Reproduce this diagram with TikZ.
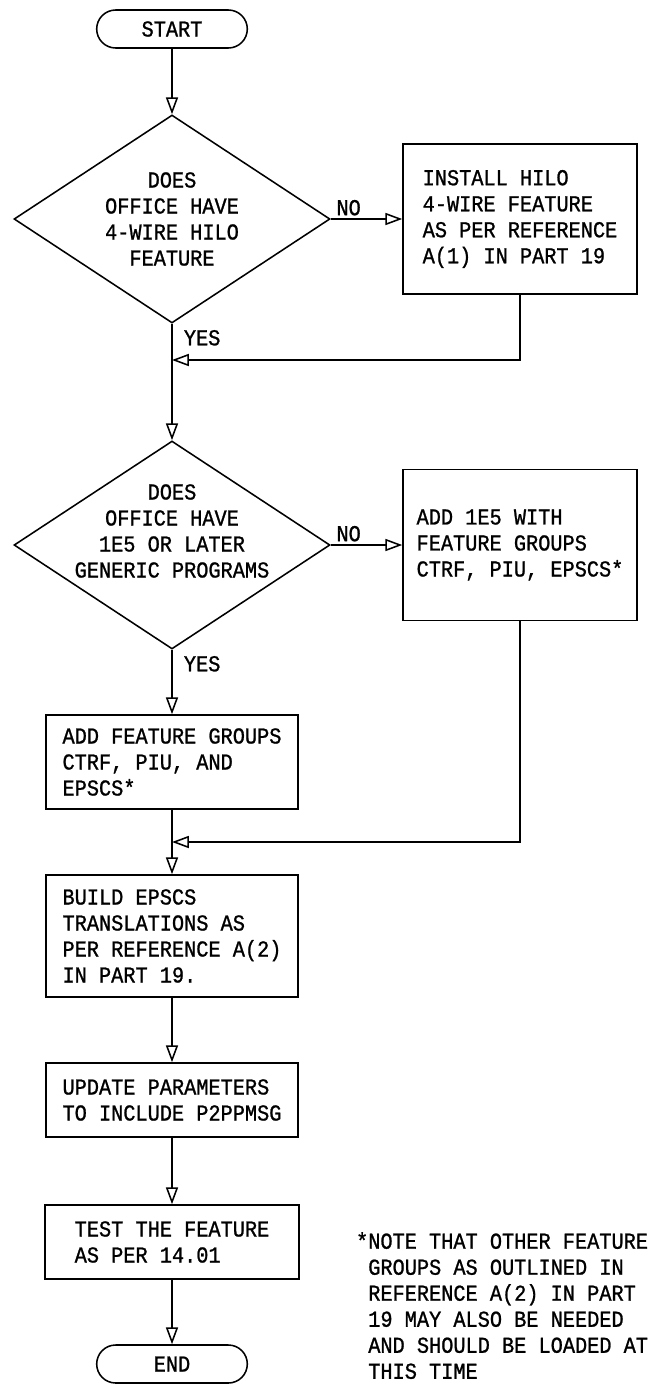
\documentclass[tikz,border=0pt]{standalone}
\usepackage{fontspec}
\newfontfamily\flowfont[FakeStretch=0.89, FakeBold=1]{Liberation Mono}
\usepackage{tikz}
\usetikzlibrary{arrows.meta,shapes,positioning}
\tikzstyle{arrow} = [line width=1.1pt, -{Triangle[open, length=0.42cm, width=0.3cm]}]
\tikzstyle{terminal} = [rounded rectangle, draw, line width=1.1pt, minimum width=4cm, minimum height=0.95cm]
\tikzstyle{decision} = [diamond, draw, line width=1.1pt, minimum width=7.9cm, minimum height=5.2cm, inner sep=0pt]
\tikzstyle{process} = [rectangle, draw, line width=1.1pt, align=left, inner sep=0pt]
\tikzstyle{dtext} = [align=center]
\tikzstyle{lbl} = [inner sep=2pt]

\begin{document}
\begin{tikzpicture}[font=\fontsize{16.2}{18.5}\selectfont\flowfont]
\useasboundingbox (0,0) rectangle (16.3,-34.625);

% Main column
\node (start) [terminal] at (4.3,-0.725) {START};
\node (d1) [decision, below of=start, node distance=4.75cm] {};
\node (d1txt) [dtext] at (d1) {DOES\\OFFICE HAVE\\4-WIRE HILO\\FEATURE};
\node (d2) [decision, below of=d1, node distance=8.15cm] {};
\node (d2txt) [dtext] at ([yshift=0.35cm]d2) {DOES\\OFFICE HAVE\\1E5 OR LATER\\GENERIC PROGRAMS};
\node (addfg) [process, below of=d2, node distance=5.425cm, minimum width=6.3cm, minimum height=2.35cm] {ADD FEATURE GROUPS\\CTRF, PIU, AND\\EPSCS*};
\node (build) [process, below of=addfg, node distance=4.35cm, minimum width=6.3cm, minimum height=3.05cm] {BUILD EPSCS\\TRANSLATIONS AS\\PER REFERENCE A(2)\\IN PART 19.};
\node (update) [process, below of=build, node distance=4.1cm, minimum width=6.3cm, minimum height=1.85cm] {UPDATE PARAMETERS\\TO INCLUDE P2PPMSG};
\node (test) [process, below of=update, node distance=3.55cm, minimum width=6.35cm, minimum height=1.85cm] {TEST THE FEATURE\\AS PER 14.01};
\node (end) [terminal, below of=test, node distance=3.05cm] {END};

% Right column
\node (install) [process, right of=d1, node distance=8.7cm, minimum width=5.85cm, minimum height=3.75cm] {INSTALL HILO\\4-WIRE FEATURE\\AS PER REFERENCE\\A(1) IN PART 19};
\node (add1e5) [process, right of=d2, node distance=8.7cm, minimum width=5.85cm, minimum height=3.775cm] {ADD 1E5 WITH\\FEATURE GROUPS\\CTRF, PIU, EPSCS*};

% Junctions
\coordinate (j1) at ([yshift=-3.525cm]d1);
\coordinate (j2) at ([yshift=-2cm]addfg);

% Labels
\node (yes1) [lbl, below right=0.08cm and 0.22cm of d1.south] {YES};
\node (yes2) [lbl, below right=0.08cm and 0.22cm of d2.south] {YES};

% Connections
\draw[arrow] (start) -- (d1);
\draw[arrow] (d1.east) -- node[lbl, pos=0.25, above] (no1) {NO} (install.west);
\draw[arrow] (install.south) |- (j1);
\draw[arrow] (d1.south) -- (d2.north);
\draw[arrow] (d2.east) -- node[lbl, pos=0.25, above] (no2) {NO} (add1e5.west);
\draw[arrow] (d2.south) -- (addfg.north);
\draw[arrow] (add1e5.south) |- (j2);
\draw[arrow] (addfg) -- (build);
\draw[arrow] (build) -- (update);
\draw[arrow] (update) -- (test);
\draw[arrow] (test) -- (end);

% Footnote
\node (note) [anchor=west, align=left, inner sep=0pt] at (9.2,-32.64) {\llap{*}NOTE THAT OTHER FEATURE\\GROUPS AS OUTLINED IN\\REFERENCE A(2) IN PART\\19 MAY ALSO BE NEEDED\\AND SHOULD BE LOADED AT\\THIS TIME};
\end{tikzpicture}
\end{document}
